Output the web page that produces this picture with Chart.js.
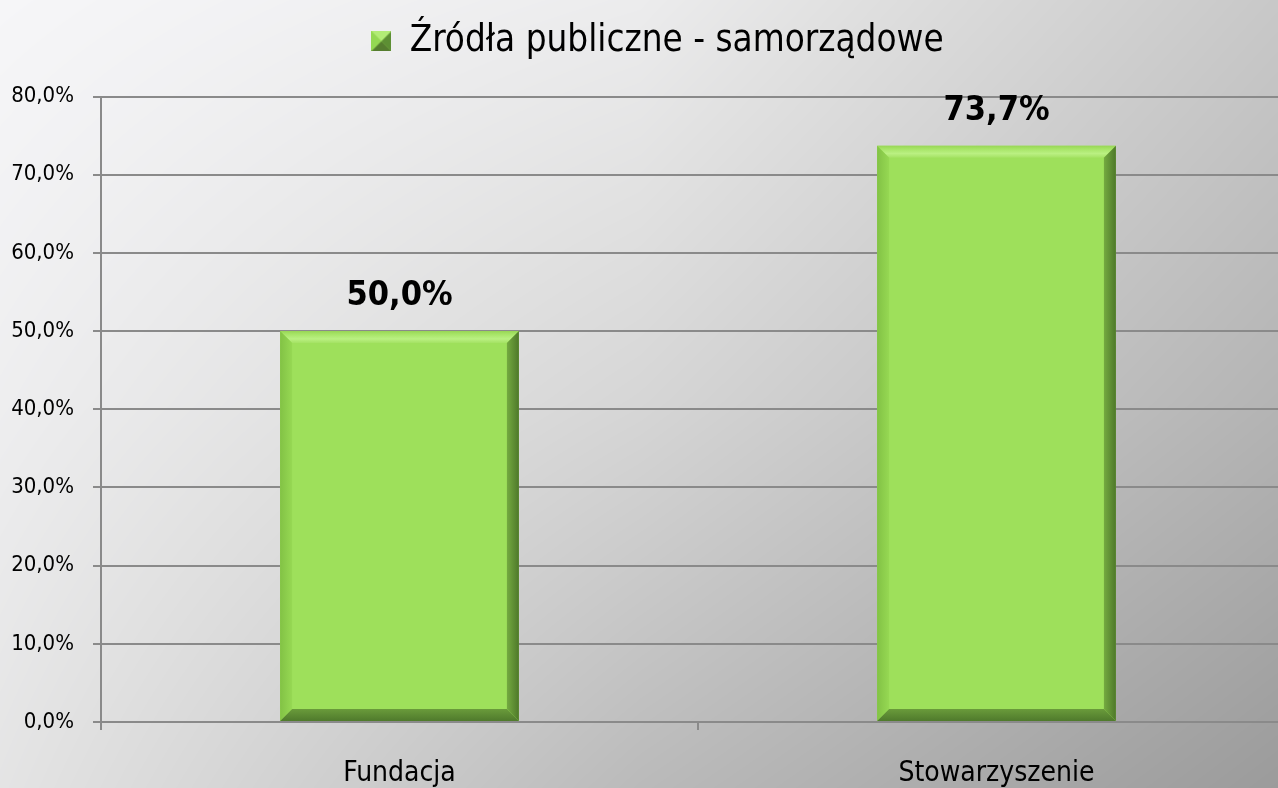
<!DOCTYPE html>
<html>
<head>
<meta charset="utf-8">
<script src="https://cdn.jsdelivr.net/npm/chart.js@4.4.0/dist/chart.umd.min.js"></script>
<style>
  html, body { margin: 0; padding: 0; width: 1278px; height: 788px; overflow: hidden; background: #d8d8d8; }
  #bg { position: absolute; left: 0; top: 0; }
  #c { position: absolute; left: 0; top: 0; display: block; }
</style>
</head>
<body>
<canvas id="bg" width="1278" height="788"></canvas>
<canvas id="c" width="1295" height="788" style="width:1295px;height:788px"></canvas>
<script>
const categories = ['Fundacja', 'Stowarzyszenie'];
const seriesName = 'Źródła publiczne - samorządowe';
const seriesValues = [50.0, 73.7];
const yTicks = [0, 10, 20, 30, 40, 50, 60, 70, 80];

const FONT = '"DejaVu Sans Condensed", "DejaVu Sans", sans-serif';
const fmt = v => v.toFixed(1).replace('.', ',') + '%';

// background: soft gray gradient (light at top-left, darker to bottom-right)
(function () {
  const cv = document.getElementById('bg');
  const g = cv.getContext('2d');
  const W = cv.width, H = cv.height;
  const gx = [0, 640, 1278], gy = [0, 400, 788];
  const gv = [[246, 236, 200], [238, 214, 180], [228, 186, 155]];
  const img = g.createImageData(W, H);
  const d = img.data;
  for (let y = 0; y < H; y++) {
    const ry = y < gy[1] ? 0 : 1;
    const ty = (y - gy[ry]) / (gy[ry + 1] - gy[ry]);
    for (let x = 0; x < W; x++) {
      const rx = x < gx[1] ? 0 : 1;
      const tx = (x - gx[rx]) / (gx[rx + 1] - gx[rx]);
      const a = gv[ry][rx] * (1 - tx) + gv[ry][rx + 1] * tx;
      const b = gv[ry + 1][rx] * (1 - tx) + gv[ry + 1][rx + 1] * tx;
      const v = a * (1 - ty) + b * ty;
      const i = (y * W + x) * 4;
      const tint = Math.max(0, (v - 225) / 10);
      d[i] = v; d[i + 1] = v; d[i + 2] = Math.min(255, v + tint); d[i + 3] = 255;
    }
  }
  g.putImageData(img, 0, 0);
})();

// legend pyramid icon
const icon = document.createElement('canvas');
icon.width = 20; icon.height = 20;
(function () {
  const g = icon.getContext('2d');
  const s = 20, c = 10;
  g.fillStyle = '#9ee05b'; g.fillRect(0, 0, s, s);
  g.fillStyle = '#b2ec76'; g.beginPath(); g.moveTo(0,0); g.lineTo(s,0); g.lineTo(c,c); g.closePath(); g.fill();
  g.fillStyle = '#94d853'; g.beginPath(); g.moveTo(0,0); g.lineTo(c,c); g.lineTo(0,s); g.closePath(); g.fill();
  g.fillStyle = '#5d8f34'; g.beginPath(); g.moveTo(s,0); g.lineTo(s,s); g.lineTo(c,c); g.closePath(); g.fill();
  g.fillStyle = '#557d2f'; g.beginPath(); g.moveTo(0,s); g.lineTo(c,c); g.lineTo(s,s); g.closePath(); g.fill();
})();

// add extra space below the legend and nudge it to the right
const legendSpace = {
  id: 'legendSpace',
  beforeLayout(chart) {
    const lg = chart.legend;
    if (lg && !lg._spacePatched) {
      const origFit = lg.fit.bind(lg);
      lg.fit = function () { origFit(); this.height += 25; };
      const origDraw = lg.draw.bind(lg);
      lg.draw = function (...args) {
        const ctx = chart.ctx;
        ctx.save(); ctx.translate(10, -2); origDraw(...args); ctx.restore();
      };
      lg._spacePatched = true;
    }
  }
};

const bevelPlugin = {
  id: 'bevel',
  afterDatasetsDraw(chart) {
    const ctx = chart.ctx;
    const meta = chart.getDatasetMeta(0);
    meta.data.forEach((el) => {
      const p = el.getProps(['x', 'y', 'base', 'width'], true);
      const l = p.x - p.width / 2, r = p.x + p.width / 2, t = p.y, b = p.base;
      const w = 12;
      ctx.save();
      const gt = ctx.createLinearGradient(0, t, 0, t + w);
      gt.addColorStop(0, '#98d655'); gt.addColorStop(0.25, '#a6e466'); gt.addColorStop(0.65, '#baf082'); gt.addColorStop(1, '#a4e263');
      ctx.fillStyle = gt;
      ctx.beginPath(); ctx.moveTo(l, t); ctx.lineTo(r, t); ctx.lineTo(r - w, t + w); ctx.lineTo(l + w, t + w); ctx.closePath(); ctx.fill();
      const gl = ctx.createLinearGradient(l, 0, l + w, 0);
      gl.addColorStop(0, '#82c245'); gl.addColorStop(1, '#96d853');
      ctx.fillStyle = gl;
      ctx.beginPath(); ctx.moveTo(l, t); ctx.lineTo(l + w, t + w); ctx.lineTo(l + w, b - w); ctx.lineTo(l, b); ctx.closePath(); ctx.fill();
      const grr = ctx.createLinearGradient(r - w, 0, r, 0);
      grr.addColorStop(0, '#74aa40'); grr.addColorStop(1, '#4e782a');
      ctx.fillStyle = grr;
      ctx.beginPath(); ctx.moveTo(r, t); ctx.lineTo(r, b); ctx.lineTo(r - w, b - w); ctx.lineTo(r - w, t + w); ctx.closePath(); ctx.fill();
      const gb = ctx.createLinearGradient(0, b - w, 0, b);
      gb.addColorStop(0, '#6a9b3b'); gb.addColorStop(1, '#4f7a2c');
      ctx.fillStyle = gb;
      ctx.beginPath(); ctx.moveTo(l, b); ctx.lineTo(l + w, b - w); ctx.lineTo(r - w, b - w); ctx.lineTo(r, b); ctx.closePath(); ctx.fill();
      ctx.restore();
    });
  }
};

const labelPlugin = {
  id: 'valueLabels',
  afterDatasetsDraw(chart) {
    const ctx = chart.ctx;
    const meta = chart.getDatasetMeta(0);
    ctx.save();
    ctx.font = 'bold 34px ' + FONT;
    ctx.fillStyle = '#000';
    ctx.textAlign = 'center';
    ctx.textBaseline = 'middle';
    meta.data.forEach((el, i) => {
      ctx.fillText(fmt(seriesValues[i]), el.x, el.y - 35);
    });
    ctx.restore();
  }
};

new Chart(document.getElementById('c'), {
  type: 'bar',
  data: {
    labels: categories,
    datasets: [{
      label: seriesName,
      data: seriesValues,
      backgroundColor: '#9ee05b',
      borderWidth: 0,
      barPercentage: 0.4,
      categoryPercentage: 1.0
    }]
  },
  options: {
    responsive: false,
    animation: false,
    layout: { padding: { left: 0, right: 0, top: 0, bottom: 0 } },
    plugins: {
      legend: {
        display: true,
        position: 'top',
        labels: {
          usePointStyle: true,
          boxWidth: 20,
          boxHeight: 20,
          padding: 25,
          color: '#000',
          font: { family: FONT, size: 36.5 },
          generateLabels: () => [{ text: seriesName, pointStyle: icon, fillStyle: '#9ee05b', strokeStyle: 'transparent', lineWidth: 0, datasetIndex: 0 }]
        }
      },
      tooltip: { enabled: false }
    },
    scales: {
      x: {
        type: 'category',
        offset: true,
        afterFit: (s) => { s.height = 66; },
        grid: { offset: true, drawOnChartArea: false, drawTicks: true, tickLength: 8, color: '#8a8a8a', lineWidth: 2 },
        border: { display: true, color: '#8a8a8a', width: 2 },
        ticks: { color: '#000', font: { family: FONT, size: 28 }, padding: 27 }
      },
      y: {
        min: 0,
        max: 80,
        afterFit: (s) => { s.width = 101; },
        afterBuildTicks: (axis) => { axis.ticks = yTicks.map(v => ({ value: v })); },
        grid: { color: '#8a8a8a', lineWidth: 2, tickLength: 8 },
        border: { display: true, color: '#8a8a8a', width: 2 },
        ticks: { color: '#000', font: { family: FONT, size: 22 }, padding: 19, callback: v => fmt(v) }
      }
    }
  },
  plugins: [legendSpace, bevelPlugin, labelPlugin]
});
</script>
</body>
</html>
